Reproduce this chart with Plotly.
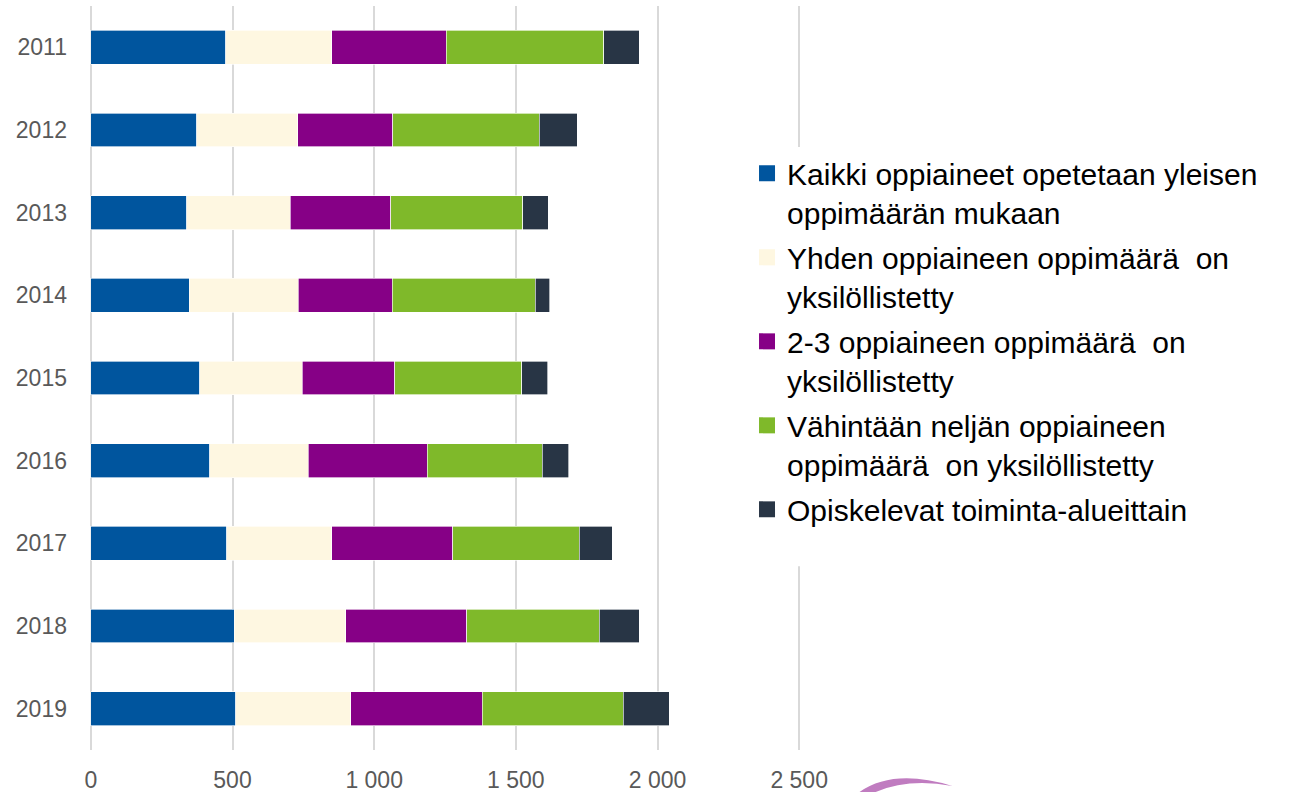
import plotly.graph_objects as go

years = ["2011", "2012", "2013", "2014", "2015", "2016", "2017", "2018", "2019"]

kaikki_yleinen = [477, 374, 338, 348, 384, 419, 479, 506, 512]
yhden_yksilollistetty = [374, 357, 366, 384, 362, 349, 372, 394, 406]
kahden_kolmen_yksilollistetty = [403, 335, 355, 331, 327, 419, 426, 427, 463]
vahintaan_neljan_yksilollistetty = [557, 516, 465, 506, 448, 406, 447, 468, 498]
toiminta_alueittain = [124, 134, 90, 51, 91, 93, 117, 140, 162]

series_names = [
    "Kaikki oppiaineet opetetaan yleisen<br>oppimäärän mukaan",
    "Yhden oppiaineen oppimäärä  on<br>yksilöllistetty",
    "2-3 oppiaineen oppimäärä  on<br>yksilöllistetty",
    "Vähintään neljän oppiaineen<br>oppimäärä  on yksilöllistetty",
    "Opiskelevat toiminta-alueittain",
]
series_values = [
    kaikki_yleinen,
    yhden_yksilollistetty,
    kahden_kolmen_yksilollistetty,
    vahintaan_neljan_yksilollistetty,
    toiminta_alueittain,
]
series_colors = ["#00559E", "#FEF7E1", "#860086", "#7FB92A", "#283545"]

x_tick_vals = [0, 500, 1000, 1500, 2000, 2500]
x_tick_text = ["0", "500", "1 000", "1 500", "2 000", "2 500"]

fig = go.Figure()
for i, (name, vals, col) in enumerate(zip(series_names, series_values, series_colors)):
    fig.add_trace(go.Bar(
        y=years, x=vals, name=name, orientation="h",
        marker=dict(color=col, line=dict(color="rgba(255,255,255,0.8)", width=0.8)),
        legendgroup=f"g{i}", showlegend=False,
    ))
# legend entries (square swatches)
for i, (name, col) in enumerate(zip(series_names, series_colors)):
    fig.add_trace(go.Scatter(
        x=[None], y=[None], mode="markers", name=name,
        marker=dict(symbol="square", size=16, color=col),
        legendgroup=f"g{i}", showlegend=True,
    ))

fig.update_layout(
    width=1315, height=792,
    barmode="stack", bargap=0.59,
    plot_bgcolor="white", paper_bgcolor="white",
    margin=dict(l=88, r=513, t=6, b=42, autoexpand=False),
    font=dict(family="Liberation Sans, Arial, sans-serif"),
    showlegend=True,
    legend=dict(
        x=0.923, xanchor="left", y=0.81, yanchor="top",
        bgcolor="white", valign="top",
        font=dict(size=30, color="#000000", family="Liberation Sans, Arial, sans-serif"),
        traceorder="grouped", tracegroupgap=3,
        itemclick=False,
    ),
    xaxis=dict(
        range=[-10, 2510], tickvals=x_tick_vals, ticktext=x_tick_text,
        showgrid=True, gridcolor="#D9D9D9", gridwidth=1.5,
        zeroline=False, showline=False, automargin=False,
        tickfont=dict(size=23, color="#595959"),
        ticks="", ticklabelstandoff=14,
    ),
    yaxis=dict(
        type="category", categoryorder="array", categoryarray=years,
        range=[8.5, -0.5],
        showgrid=False, zeroline=False, showline=False, automargin=False,
        tickfont=dict(size=23, color="#595959"),
        ticks="", ticklabelstandoff=20,
    ),
    shapes=[
        dict(
            type="rect", xref="paper", yref="paper",
            x0=0.985, x1=1.008, y0=0.247, y1=0.32,
            fillcolor="white", line=dict(width=0), layer="above",
        ),
        dict(
            type="path", xref="paper", yref="paper",
            path="M1.0805,-0.0565 Q1.1285,-0.0242 1.2105,-0.0484 Q1.1497,-0.0376 1.1031,-0.0565 Z",
            fillcolor="#C07CC0", line=dict(width=0), layer="above",
        ),
    ],
)

fig.write_html(
    "out.html",
    config={"displayModeBar": False},
    post_script="document.body.style.margin='0';document.body.style.overflow='hidden';",
)
